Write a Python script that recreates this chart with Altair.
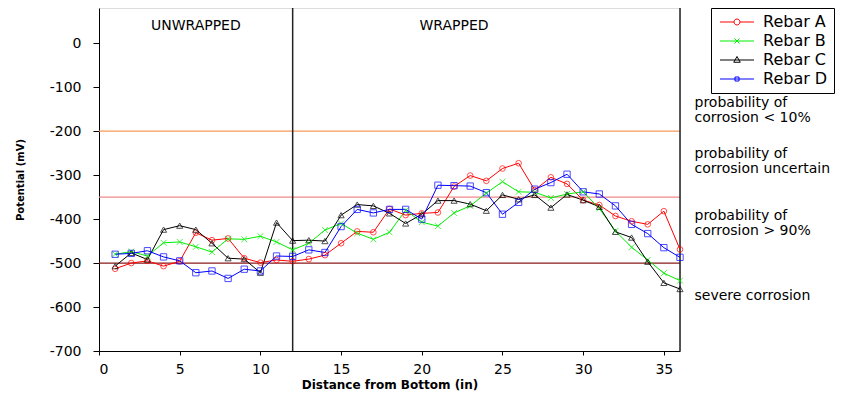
import altair as alt
import pandas as pd

FONT = "DejaVu Sans"

distance = list(range(1, 37))
series_names = ["Rebar A", "Rebar B", "Rebar C", "Rebar D"]
rebar_a = [-513, -500, -495, -507, -496, -431, -448, -444, -489, -499, -493, -496,
           -491, -482, -455, -428, -430, -377, -391, -387, -385, -326, -301, -313,
           -285, -273, -334, -305, -320, -357, -368, -393, -405, -412, -382, -469]
rebar_b = [-480, -474, -484, -454, -452, -463, -475, -445, -446, -439, -452, -470,
           -455, -425, -410, -432, -446, -430, -380, -407, -416, -386, -370, -341,
           -315, -338, -339, -352, -343, -338, -376, -427, -464, -493, -523, -540]
rebar_c = [-507, -477, -492, -424, -415, -424, -455, -489, -491, -522, -408, -449,
           -448, -450, -391, -367, -370, -387, -410, -389, -358, -358, -366, -381,
           -345, -355, -345, -374, -344, -357, -372, -429, -442, -497, -545, -559]
rebar_d = [-480, -478, -472, -486, -495, -522, -518, -535, -514, -518, -484, -485,
           -470, -476, -417, -378, -386, -378, -378, -400, -323, -324, -325, -340,
           -389, -362, -332, -317, -298, -338, -343, -370, -412, -433, -465, -487]
series_colors = ["#FF0000", "#00EE00", "#000000", "#0000FF"]

# threshold lines
threshold_values = [-200, -350, -500]
threshold_colors = ["#F79A5A", "#F08A8A", "#8B1A1A"]
# zone labels
zone_labels = ["probability of\ncorrosion < 10%", "probability of\ncorrosion uncertain",
               "probability of\ncorrosion > 90%", "severe corrosion"]
zone_label_y = [-136, -253, -393, -575]
region_labels = ["UNWRAPPED", "WRAPPED"]
region_label_x = [6, 22]
region_label_y = [40, 40]
divider_x = [12]
x_ticks = [0, 5, 10, 15, 20, 25, 30, 35]
y_ticks = [0, -100, -200, -300, -400, -500, -600, -700]

rows = []
for name, vals in zip(series_names, [rebar_a, rebar_b, rebar_c, rebar_d]):
    for d, v in zip(distance, vals):
        rows.append({"distance": d, "potential": v, "series": name})
df = pd.DataFrame(rows)

W, H = 581, 343
xscale = alt.Scale(domain=[0, 36], nice=False, zero=False)
yscale = alt.Scale(domain=[-700, 80], nice=False, zero=False)

color_scale = alt.Scale(domain=series_names, range=series_colors)
xenc = alt.X("distance:Q", scale=xscale,
             axis=alt.Axis(values=x_ticks, grid=False,
                           title="Distance from Bottom (in)", tickSize=4,
                           labelPadding=7, titlePadding=3, labelFontSize=14,
                           titleFontSize=12, titleFontWeight="bold",
                           domainColor="black", tickColor="black", labelColor="black",
                           labelFont=FONT, titleFont=FONT))
yenc = alt.Y("potential:Q", scale=yscale,
             axis=alt.Axis(values=y_ticks,
                           labelExpr="datum.value < 0 ? '-' + abs(datum.value) : '' + datum.value",
                           grid=False, title="Potential (mV)", tickSize=6,
                           labelPadding=12, titlePadding=24, labelFontSize=14,
                           titleFontSize=10, titleFontWeight="bold",
                           domainColor="black", tickColor="black", labelColor="black",
                           labelFont=FONT, titleFont=FONT))

base = alt.Chart(df)

lines = base.mark_line(strokeWidth=1, clip=False).encode(
    x=xenc, y=yenc,
    color=alt.Color("series:N", scale=color_scale, legend=None),
    detail="series:N",
)

x_path = "M-1,-1L1,1M-1,1L1,-1"
points = base.mark_point(filled=False, strokeWidth=1, size=30).encode(
    x="distance:Q", y="potential:Q",
    color=alt.Color("series:N", scale=color_scale, legend=None),
    shape=alt.Shape("series:N", scale=alt.Scale(domain=series_names,
                    range=["circle", x_path, "triangle-up", "square"]), legend=None),
    size=alt.Size("series:N", scale=alt.Scale(domain=series_names, range=[32, 40, 45, 16]),
                  legend=None),
)

# legend glyphs: a line with a marker in its middle (1 unit = 5 px at symbolSize 100)
legend_shapes = [
    "M-1,0H1.8M3,0H5.8M3,0A0.6,0.6 0 1,1 1.8,0A0.6,0.6 0 1,1 3,0",
    "M-1,0H5.8M1.9,-0.5L2.9,0.5M1.9,0.5L2.9,-0.5",
    "M-1,0H5.8M2.4,-0.7L3.05,0.45L1.75,0.45Z",
    "M-1,0H5.8M2,-0.4H2.8V0.4H2Z",
]
legend_common = dict(orient="none", legendX=612, legendY=0, title=None,
                     labelFontSize=16, labelFont=FONT, labelColor="black",
                     symbolSize=100, symbolStrokeWidth=1, symbolOpacity=1,
                     strokeColor="black", padding=6, rowPadding=3, labelOffset=30,
                     fillColor="white")
legend_layer = base.mark_point(filled=False, opacity=0).encode(
    x="distance:Q", y="potential:Q",
    color=alt.Color("series:N", scale=color_scale, legend=alt.Legend(**legend_common)),
    shape=alt.Shape("series:N", scale=alt.Scale(domain=series_names, range=legend_shapes),
                    legend=alt.Legend(**legend_common)),
)

thr_df = pd.DataFrame({"value": threshold_values, "c": threshold_colors})
thresholds = alt.Chart(thr_df).mark_rule(strokeWidth=1.3).encode(
    y=alt.Y("value:Q", scale=yscale),
    color=alt.Color("c:N", scale=None),
)

div_df = pd.DataFrame({"x": divider_x + [36]})
dividers = alt.Chart(div_df).mark_rule(strokeWidth=1.5, color="#222222").encode(
    x=alt.X("x:Q", scale=xscale),
)

reg_df = pd.DataFrame({"x": region_label_x, "y": region_label_y, "t": region_labels})
region_text = alt.Chart(reg_df).mark_text(fontSize=14, font=FONT, color="black",
                                          baseline="middle", align="center").encode(
    x=alt.X("x:Q", scale=xscale), y=alt.Y("y:Q", scale=yscale), text="t:N")

zone_df = pd.DataFrame({"y": zone_label_y, "t": zone_labels, "x": [36.9] * 4})
zone_text = alt.Chart(zone_df).mark_text(fontSize=14, font=FONT, color="black",
                                         align="left", baseline="middle",
                                         lineBreak="\n", lineHeight=15).encode(
    x=alt.X("x:Q", scale=xscale), y=alt.Y("y:Q", scale=yscale), text="t:N")

chart = alt.layer(
    thresholds, dividers, lines, points, legend_layer, region_text, zone_text
).resolve_scale(
    color="independent", shape="independent", size="independent"
).properties(
    width=W, height=H,
    autosize=alt.AutoSizeParams(type="none"),
    padding={"left": 91, "top": 0, "right": 175, "bottom": 41},
).configure_view(
    stroke="#999999", strokeWidth=1
).configure(background="white")

chart.save("out.html", embed_options={"renderer": "svg", "actions": False})
